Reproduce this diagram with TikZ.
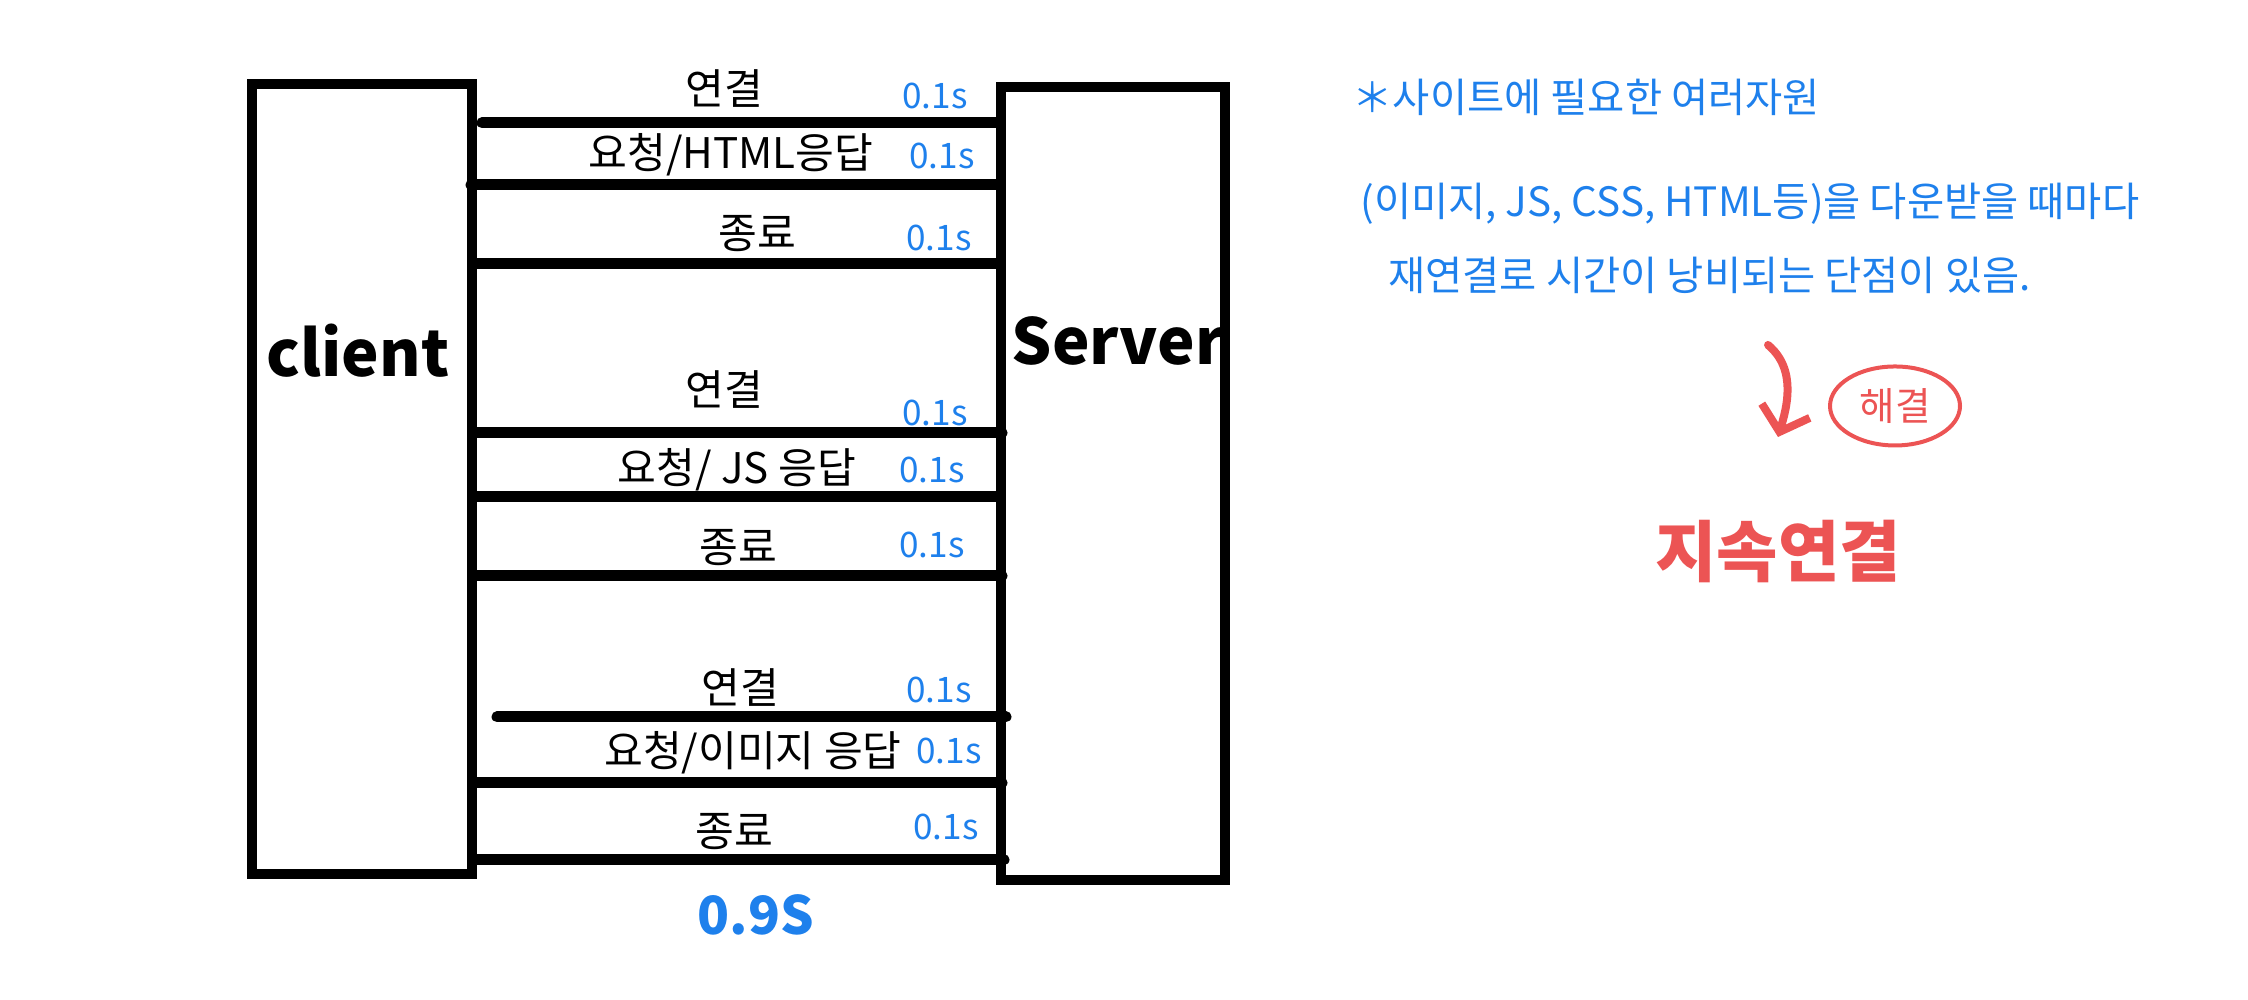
\documentclass[tikz,border=0pt]{standalone}
\usepackage{fontspec}
\setmainfont{Noto Sans CJK KR}
\usepackage{tikz}
\usetikzlibrary{arrows.meta,shapes.geometric,positioning}
\definecolor{inkblue}{RGB}{30,128,236}
\definecolor{inkred}{RGB}{236,84,84}

\begin{document}
\begin{tikzpicture}[
  box/.style={draw,line width=0.1cm},
  msg/.style={line width=0.11cm,line cap=round},
  lab/.style={font=\fontsize{12}{14}\selectfont},
  sec/.style={text=inkblue,font=\fontsize{10}{12}\selectfont},
  note/.style={text=inkblue,anchor=west,font=\fontsize{11.5}{14}\selectfont},
  side/.style={font=\fontsize{18}{22}\selectfont\bfseries}]
\useasboundingbox (0cm,0cm) rectangle (22.48cm,10cm);
\node[box,minimum width=2.2cm,minimum height=7.9cm] (client) at (3.62cm,5.21cm) {};
\node[box,minimum width=2.24cm,minimum height=7.93cm] (server) at (11.13cm,5.16cm) {};
\node[side] (clientname) at (3.58cm,6.49cm) {client};
\node[side] (servername) at (11.18cm,6.59cm) {Server};
\draw[msg,shorten <=0.05cm] (client.east |- 0,8.77cm) -- (server.west |- 0,8.77cm);
\draw[msg,shorten <=-0.06cm] (client.east |- 0,8.15cm) -- (server.west |- 0,8.15cm);
\draw[msg] (client.east |- 0,7.36cm) -- (server.west |- 0,7.36cm);
\draw[msg,shorten >=-0.06cm] (client.east |- 0,5.67cm) -- (server.west |- 0,5.67cm);
\draw[msg,shorten >=-0.03cm] (client.east |- 0,5.03cm) -- (server.west |- 0,5.03cm);
\draw[msg,shorten >=-0.06cm] (client.east |- 0,4.24cm) -- (server.west |- 0,4.24cm);
\draw[msg,shorten <=0.2cm,shorten >=-0.1cm] (client.east |- 0,2.83cm) -- (server.west |- 0,2.83cm);
\draw[msg,shorten >=-0.06cm] (client.east |- 0,2.17cm) -- (server.west |- 0,2.17cm);
\draw[msg,shorten >=-0.08cm] (client.east |- 0,1.40cm) -- (server.west |- 0,1.40cm);
\node[lab] (open1) at (7.24cm,9.11cm) {연결};
\node[lab] (req1) at (7.31cm,8.45cm) {요청/HTML응답};
\node[lab] (close1) at (7.57cm,7.66cm) {종료};
\node[lab] (open2) at (7.24cm,6.10cm) {연결};
\node[lab] (req2) at (7.37cm,5.30cm) {요청/ JS 응답};
\node[lab] (close2) at (7.38cm,4.52cm) {종료};
\node[lab] (open3) at (7.40cm,3.12cm) {연결};
\node[lab] (req3) at (7.53cm,2.47cm) {요청/이미지 응답};
\node[lab] (close3) at (7.34cm,1.68cm) {종료};
\node[sec] (t1) at (9.35cm,9.04cm) {0.1s};
\node[sec] (t2) at (9.42cm,8.44cm) {0.1s};
\node[sec] (t3) at (9.39cm,7.62cm) {0.1s};
\node[sec] (t4) at (9.35cm,5.87cm) {0.1s};
\node[sec] (t5) at (9.32cm,5.30cm) {0.1s};
\node[sec] (t6) at (9.32cm,4.55cm) {0.1s};
\node[sec] (t7) at (9.39cm,3.10cm) {0.1s};
\node[sec] (t8) at (9.49cm,2.49cm) {0.1s};
\node[sec] (t9) at (9.46cm,1.73cm) {0.1s};
\node[text=inkblue,font=\fontsize{15}{18}\selectfont\bfseries] (total) at (7.56cm,0.85cm) {0.9S};
\node[note] (note1) at (13.40cm,9.03cm) {＊사이트에 필요한 여러자원};
\node[note] (note2) at (13.48cm,7.96cm) {(이미지, JS, CSS, HTML등)을 다운받을 때마다};
\node[note] (note3) at (13.76cm,7.25cm) {재연결로 시간이 낭비되는 단점이 있음.};
\coordinate (arrowtop) at (17.68cm,6.55cm);
\coordinate (arrowtip) at (17.78cm,5.63cm);
\draw[inkred,line width=0.08cm,line cap=round,-{Straight Barb[length=0.22cm,width=0.5cm]}] (arrowtop) .. controls (17.98cm,6.30cm) and (17.86cm,5.90cm) .. (arrowtip);
\node[draw=inkred,line width=0.04cm,ellipse,text=inkred,inner sep=0.05cm,minimum width=1.3cm,minimum height=0.79cm,font=\fontsize{11}{13}\selectfont] (fix) at (18.95cm,5.94cm) {해결};
\node[text=inkred,font=\fontsize{19}{23}\selectfont\bfseries] (keepalive) at (17.78cm,4.48cm) {지속연결};
\end{tikzpicture}
\end{document}
